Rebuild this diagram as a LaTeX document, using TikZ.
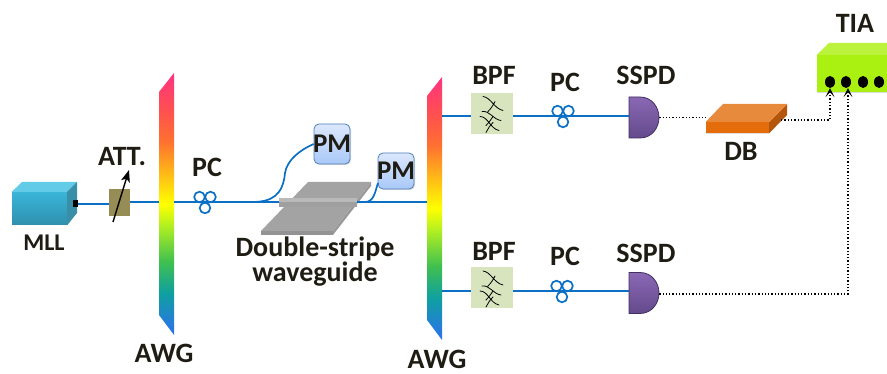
\documentclass[tikz,border=0pt]{standalone}
\usepackage{fontspec}
\setmainfont{Carlito}
\usetikzlibrary{arrows.meta,shadows,shapes.geometric}
\definecolor{fibreblue}{HTML}{0B70C4}
\definecolor{labelink}{HTML}{1F1C14}
\definecolor{attbox}{HTML}{968C55}
\definecolor{bpfbox}{HTML}{D8E4BE}
\definecolor{plate}{HTML}{A3A3A3}
\definecolor{awgblue}{HTML}{2E6FF0}
\definecolor{awgteal}{HTML}{0FA0A0}
\definecolor{awggreen}{HTML}{40C050}
\definecolor{awglime}{HTML}{B4F020}
\definecolor{awgamber}{HTML}{FFA020}
\definecolor{awgorange}{HTML}{FF7030}
\definecolor{awgred}{HTML}{FF5050}
\definecolor{awgpink}{HTML}{FF3380}
\definecolor{mlltop}{HTML}{62CBE8}
\definecolor{mllhi}{HTML}{3AB5D8}
\definecolor{mlllo}{HTML}{2F90AE}
\definecolor{mllside}{HTML}{3A8FA8}
\definecolor{pmhi}{HTML}{DCE8FC}
\definecolor{pmlo}{HTML}{A9C8F8}
\definecolor{pmline}{HTML}{4F81BD}
\definecolor{sspdhi}{HTML}{8A68B4}
\definecolor{sspdlo}{HTML}{644A8C}
\definecolor{sspdline}{HTML}{3F3060}
\definecolor{dbfront}{HTML}{E56C0A}
\definecolor{dbtop}{HTML}{E88A3C}
\definecolor{dbside}{HTML}{B4560C}
\definecolor{tiafront}{HTML}{AAF010}
\definecolor{tiatop}{HTML}{BAF23C}
\pgfdeclareverticalshading{rainbow}{100bp}{
  color(0bp)=(awgblue); color(25bp)=(awgblue);
  color(33bp)=(awgteal); color(39bp)=(awggreen);
  color(46bp)=(awglime); color(50bp)=(yellow);
  color(58bp)=(awgamber); color(62bp)=(awgorange);
  color(68bp)=(awgred); color(75bp)=(awgpink); color(100bp)=(awgpink)}
\tikzset{
  lbl/.style = {font=\bfseries\fontsize{28}{21}\selectfont, text=labelink, inner sep=0pt},
  fibre/.style = {draw=fibreblue, line width=1.7pt},
  elec/.style = {draw=black, line width=1.3pt, dotted},
  porttip/.style = {-{Stealth[length=9pt,width=9pt,inset=5pt]}},
  pmbox/.style = {draw=pmline, top color=pmhi, bottom color=pmlo, rounded corners=5pt,
    line width=.8pt, minimum width=36pt, minimum height=#1, inner sep=0pt,
    drop shadow={shadow xshift=1pt, shadow yshift=-1pt, opacity=.3}},
  pmbox/.default = 40pt,
  awg/.style = {shading=rainbow},
  pcoil/.pic = {
    \draw[fibreblue, line width=1.7pt] (-5.5,-5) circle (5.3pt) (5.5,-5) circle (5.3pt) (0,6) circle (5.3pt);
  },
  filter/.pic = {
    \node[fill=bpfbox, minimum width=42pt, minimum height=41pt, inner sep=0pt] (-box) {};
    \draw[black, line width=.8pt, line cap=round]
      (-9,-17) .. controls (-1,-16) and (2,-5) .. (11,-3)
      (-10,-2) .. controls (-2,-3) and (1,6) .. (9,7)
      (-12,3) .. controls (-4,3) and (-2,15) .. (7,17)
      (-4,-2) .. controls (-1,-5) and (1,-8) .. (3,-12)
      (-6,12) .. controls (-3,9) and (-1,6) .. (1,3)
      (-6,19) .. controls (-3,14) and (-3,13) .. (1,9);
  },
  detector/.pic = {
    \node[minimum width=30pt, minimum height=41pt, inner sep=0pt] (-box) {};
    \path[draw=sspdline, line width=.8pt, top color=sspdhi, bottom color=sspdlo]
      (-15,-20.5) -- (-4,-20.5) .. controls (8,-20.5) and (15,-10) .. (15,0)
      .. controls (15,10) and (8,20.5) .. (-4,20.5) -- (-15,20.5) -- cycle;
  },
}
\begin{document}
\begin{tikzpicture}[x=1pt,y=-1pt]
\useasboundingbox (0,0) rectangle (887,374);

% mode-locked laser
\node [minimum width=55pt, minimum height=33pt, inner sep=0pt, top color=mllhi,
  bottom color=mlllo] (mll) at (39.5,208.5) {};
\fill [mlltop] (mll.north west) -- (22,182) -- (77,182) -- (mll.north east) -- cycle;
\fill [mllside] (mll.north east) -- (77,182) -- (77,213) -- (mll.south east) -- cycle;
\node [fill=black, minimum width=5pt, minimum height=7pt, inner sep=0pt] (mllport) at (75,204) {};
\node [lbl, font=\bfseries\fontsize{24}{24}\selectfont] (mlllabel) at (44,243) {MLL};

% attenuator
\node [fill=attbox, minimum width=21pt, minimum height=27pt, inner sep=0pt] (att) at (119.5,202.5) {};
\coordinate (attfrom) at (113,222);
\coordinate (attto) at (129,170);
\draw [fibre] (mllport.east) -- (mllport.east -| att.west);
\draw [-{Stealth[length=12pt,width=9pt,inset=3pt]}, line width=1.4pt] (attfrom) -- (attto);
\node [lbl] (attlabel) at (122,157) {ATT.};

% first AWG
\path [awg] (159,92) -- (174,73) -- (174,335) -- (159,315) -- cycle;
\node [lbl] (awgleft) at (164,353) {AWG};
\coordinate (awgain) at (159,202);
\coordinate (awgaout) at (174,202);
\draw [fibre] (att.east |- awgain) -- (awgain);

% waveguide chip
\fill [gray!85] (261,231) -- (333,231) -- (333,235) -- (261,235) -- cycle;
\fill [gray!80] (333,231) -- (371,182) -- (371,186) -- (333,235) -- cycle;
\fill [plate] (308,182) -- (371,182) -- (333,231) -- (261,231) -- cycle;
\node [fill=gray!55, minimum width=78pt, minimum height=9pt, inner sep=0pt] (stripe) at (318,202.5) {};
\fill [gray!75] (stripe.west) rectangle (stripe.south east);
\node [lbl, align=center] (wglabel) at (315,262) {Double-stripe\\waveguide};

% power meters
\node [pmbox] (pma) at (332,144) {};
\node [pmbox=36pt] (pmb) at (396,171) {};
\node [lbl, font=\bfseries\fontsize{27}{27}\selectfont] at (pma) {PM};
\node [lbl, font=\bfseries\fontsize{27}{27}\selectfont] at (pmb) {PM};

\draw [fibre] (awgaout) -- (awgaout -| stripe.west);
\draw [fibre] (252,202) .. controls (272,202) and (283,195) .. (285,173)
  .. controls (287,160) and (300,150) .. (pma.west);
\draw [fibre] (365,202) .. controls (374,202) and (375,192) .. (378,183);

% second AWG
\path [awg] (427,96) -- (442,77) -- (442,340) -- (427,320) -- cycle;
\node [lbl] (awgright) at (437,359) {AWG};
\coordinate (awgbin) at (427,202);
\coordinate (awgbouta) at (442,116);
\coordinate (awgboutb) at (442,291);
\draw [fibre] (stripe.east |- awgbin) -- (awgbin);

% upper arm
\pic (bpfa) at (492,113.5) {filter};
\pic (sspda) at (644,117.5) {detector};
\draw [fibre] (awgbouta) -- (bpfa-box.west |- awgbouta);
\draw [fibre] (bpfa-box.east |- awgbouta) -- (sspda-box.west |- awgbouta);
\pic at (563,116) {pcoil};
\node [lbl] (bpfalabel) at (494,75) {BPF};
\node [lbl] (pcblabel) at (565,82) {PC};
\node [lbl] (sspdalabel) at (646,75) {SSPD};

% lower arm
\pic (bpfb) at (492,288) {filter};
\pic (sspdb) at (644,293) {detector};
\draw [fibre] (awgboutb) -- (bpfb-box.west |- awgboutb);
\draw [fibre] (bpfb-box.east |- awgboutb) -- (sspdb-box.west |- awgboutb);
\pic at (562,291) {pcoil};
\node [lbl] (bpfblabel) at (494,251) {BPF};
\node [lbl] (pcclabel) at (565,256) {PC};
\node [lbl] (sspdblabel) at (646,253) {SSPD};

% first PC
\pic at (205,202) {pcoil};
\node [lbl] (pcalabel) at (207,167) {PC};

% balanced detector
\node [minimum width=63pt, minimum height=11pt, inner sep=0pt, fill=dbfront,
  drop shadow={shadow xshift=0pt, shadow yshift=-1pt, opacity=.25}] (db) at (737.5,127.5) {};
\fill [dbside] (db.north east) -- (787,104) -- (787,115) -- (db.south east) -- cycle;
\fill [dbtop] (db.north west) -- (723,104) -- (787,104) -- (db.north east) -- cycle;
\node [lbl] (dblabel) at (741,151) {DB};

% amplifier
\node [minimum width=70pt, minimum height=37pt, inner sep=0pt, fill=tiafront,
  drop shadow={shadow xshift=0pt, shadow yshift=-1pt, opacity=.3}] (tia) at (852,73.5) {};
\fill [tiatop] (tia.north west) -- (829,43) -- (887,43) -- (887,55) -- cycle;
\foreach \px/\pname in {830/porta,846/portb,863/portc,879/portd}
  \node [fill=black, ellipse, minimum width=10pt, minimum height=12pt, inner sep=0pt] (\pname) at (\px,82) {};
\node [lbl] (tialabel) at (855,23) {TIA};

% electrical lines
\draw [elec] (sspda-box.east) -- (db.west |- sspda-box.east);
\coordinate (dbout) at (781,120);
\coordinate (bendb) at (848,294);
\draw [elec, porttip] (dbout) -| (porta.south);
\draw [elec, porttip] (sspdb-box.east |- bendb) -| (portb.south -| bendb);
\end{tikzpicture}
\end{document}
